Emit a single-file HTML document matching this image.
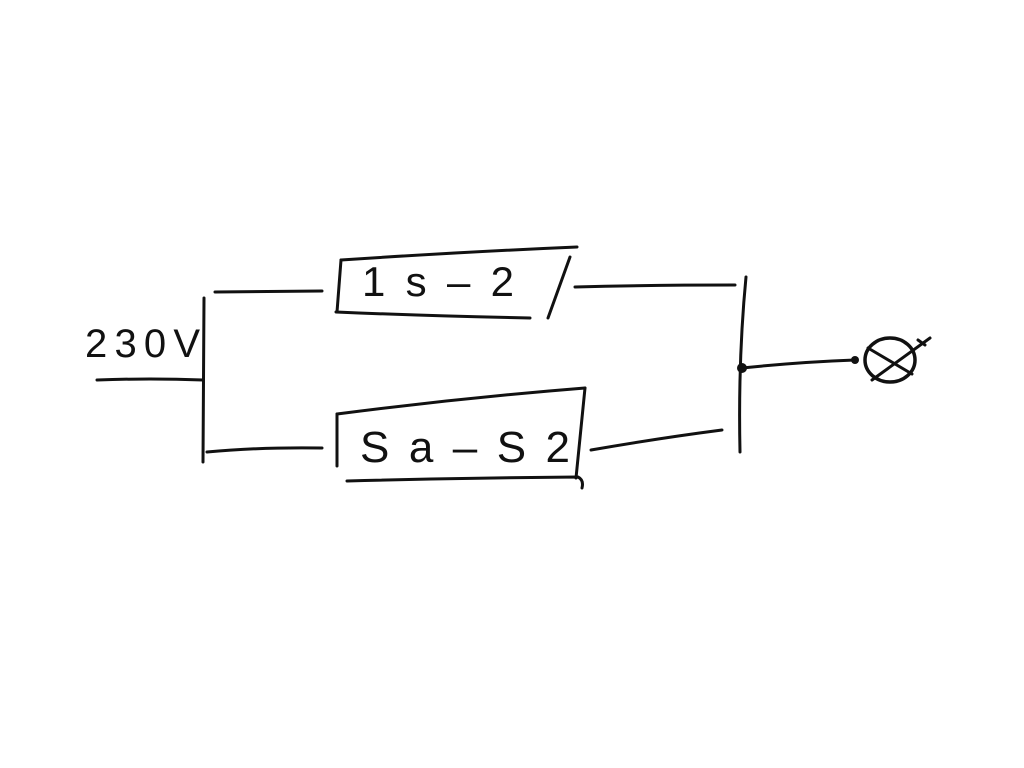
<!DOCTYPE html>
<html><head><meta charset="utf-8"><style>
html,body{margin:0;padding:0;background:#fff;width:1024px;height:768px;overflow:hidden}
svg{display:block}
text{font-family:"Liberation Sans",sans-serif;fill:#111}
</style></head><body>
<svg width="1024" height="768" viewBox="0 0 1024 768" xmlns="http://www.w3.org/2000/svg">
<g fill="none" stroke="#111" stroke-width="3" stroke-linecap="round" stroke-linejoin="round">
<path d="M97 380 Q150 378 203 380"/>
<path d="M204 298 L203 462"/>
<path d="M215 292 L322 291"/>
<path d="M207 452 Q260 447 322 448"/>
<path d="M341 260 L337 312"/>
<path d="M341 260 Q460 252 577 247"/>
<path d="M570 257 L548 318"/>
<path d="M336 312 Q430 316 530 318"/>
<path d="M337 414 L337 466"/>
<path d="M337 414 Q460 398 585 388"/>
<path d="M585 388 L576 478"/>
<path d="M347 481 Q460 478 578 477 Q584 480 582 488"/>
<path d="M575 287 Q650 285 735 285"/>
<path d="M591 450 Q660 438 722 430"/>
<path d="M746 277 Q738 360 740 452"/>
<path d="M742 368 Q800 362 855 360"/>
<ellipse cx="890" cy="360" rx="25" ry="22" stroke-width="3.5"/>
<path d="M868 348 L912 374"/>
<path d="M872 380 L930 338"/>
<path d="M918 340 L925 345"/>
</g>
<circle cx="742" cy="368" r="5" fill="#111"/>
<circle cx="855" cy="360" r="4" fill="#111"/>
<text x="85" y="357" font-size="40" textLength="115" lengthAdjust="spacing">230V</text>
<text x="362" y="296" font-size="42" textLength="152" lengthAdjust="spacing">1s–2</text>
<text x="360" y="462" font-size="44" textLength="210" lengthAdjust="spacing">Sa–S2</text>
</svg>
</body></html>
